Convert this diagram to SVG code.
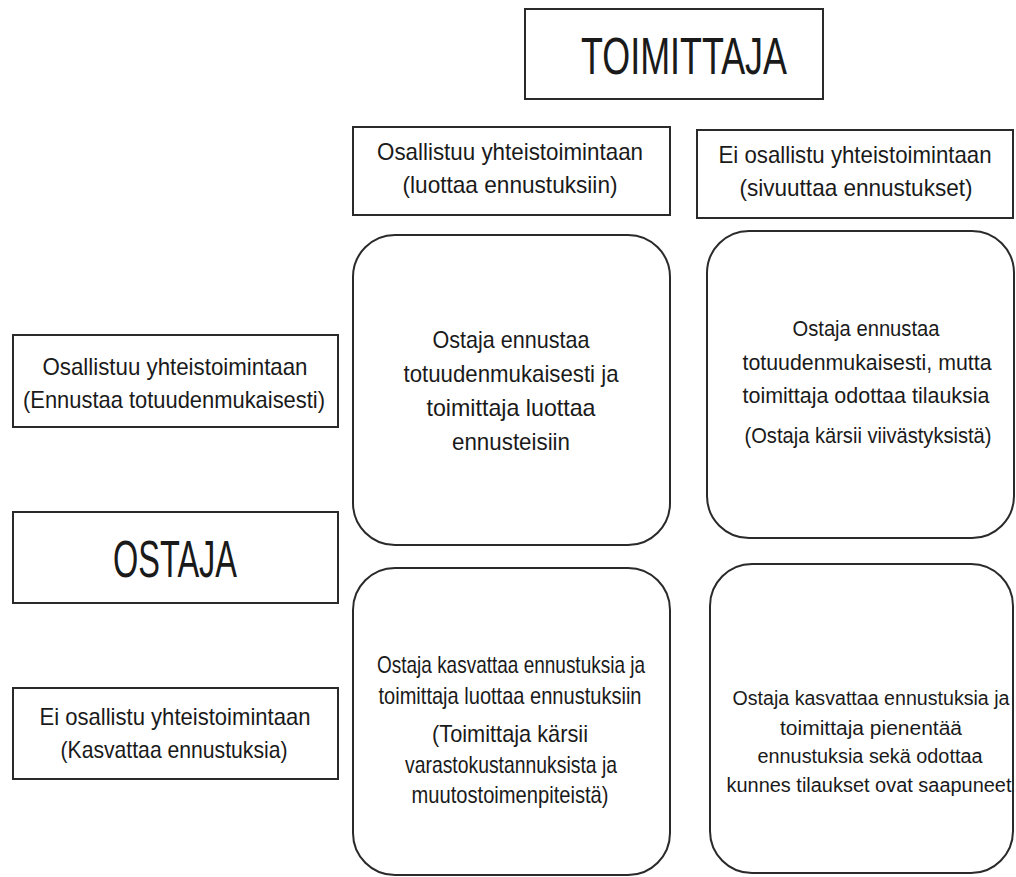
<svg xmlns="http://www.w3.org/2000/svg" width="1016" height="877" viewBox="0 0 1016 877">
  <style>
    .box { fill: #ffffff; stroke: #2a2a2a; stroke-width: 2; }
    .card { fill: #ffffff; stroke: #2a2a2a; stroke-width: 2; }
    text { font-family: "Liberation Sans", Arial, sans-serif; fill: #1a1a1a; text-anchor: middle; }
    .t { font-size: 24px; }
    .s { font-size: 22px; }
    .xs { font-size: 20px; }
    .big { font-size: 52px; }
  </style>
  <rect width="1016" height="877" fill="#ffffff"/>

  <!-- supplier title -->
  <g id="toimittaja">
    <rect class="box" x="525" y="9" width="298" height="90"/>
    <text class="big" x="684" y="74" textLength="206" lengthAdjust="spacingAndGlyphs">TOIMITTAJA</text>
  </g>

  <!-- column headers -->
  <g id="col-osallistuu">
    <rect class="box" x="353" y="127" width="317" height="88"/>
    <text class="t" x="510" y="160" textLength="266" lengthAdjust="spacingAndGlyphs">Osallistuu yhteistoimintaan</text>
    <text class="t" x="510" y="193" textLength="215" lengthAdjust="spacingAndGlyphs">(luottaa ennustuksiin)</text>
  </g>
  <g id="col-ei-osallistu">
    <rect class="box" x="697" y="130" width="316" height="88"/>
    <text class="t" x="855" y="163" textLength="273" lengthAdjust="spacingAndGlyphs">Ei osallistu yhteistoimintaan</text>
    <text class="t" x="856" y="196" textLength="233" lengthAdjust="spacingAndGlyphs">(sivuuttaa ennustukset)</text>
  </g>

  <!-- row headers -->
  <g id="row-osallistuu">
    <rect class="box" x="13" y="335" width="325" height="92"/>
    <text class="t" x="175" y="375" textLength="265" lengthAdjust="spacingAndGlyphs">Osallistuu yhteistoimintaan</text>
    <text class="t" x="174" y="408" textLength="302" lengthAdjust="spacingAndGlyphs">(Ennustaa totuudenmukaisesti)</text>
  </g>
  <g id="ostaja">
    <rect class="box" x="13" y="512" width="325" height="91"/>
    <text class="big" x="175" y="577" textLength="124" lengthAdjust="spacingAndGlyphs">OSTAJA</text>
  </g>
  <g id="row-ei-osallistu">
    <rect class="box" x="13" y="688" width="325" height="91"/>
    <text class="t" x="175" y="725" textLength="271" lengthAdjust="spacingAndGlyphs">Ei osallistu yhteistoimintaan</text>
    <text class="t" x="174" y="758" textLength="227" lengthAdjust="spacingAndGlyphs">(Kasvattaa ennustuksia)</text>
  </g>

  <!-- outcome cells -->
  <g id="cell-both">
    <rect class="card" x="353" y="235" width="317" height="310" rx="42" ry="42"/>
    <text class="t" x="511" y="348" textLength="157" lengthAdjust="spacingAndGlyphs">Ostaja ennustaa</text>
    <text class="t" x="511" y="382" textLength="215" lengthAdjust="spacingAndGlyphs">totuudenmukaisesti ja</text>
    <text class="t" x="511" y="416" textLength="169" lengthAdjust="spacingAndGlyphs">toimittaja luottaa</text>
    <text class="t" x="511" y="450" textLength="118" lengthAdjust="spacingAndGlyphs">ennusteisiin</text>
  </g>
  <g id="cell-buyer-only">
    <rect class="card" x="707" y="231" width="307" height="307" rx="42" ry="42"/>
    <text class="s" x="866" y="336" textLength="147" lengthAdjust="spacingAndGlyphs">Ostaja ennustaa</text>
    <text class="s" x="867" y="370" textLength="249" lengthAdjust="spacingAndGlyphs">totuudenmukaisesti, mutta</text>
    <text class="s" x="866" y="403" textLength="247" lengthAdjust="spacingAndGlyphs">toimittaja odottaa tilauksia</text>
    <text class="s" x="868" y="443" textLength="247" lengthAdjust="spacingAndGlyphs">(Ostaja kärsii viivästyksistä)</text>
  </g>
  <g id="cell-supplier-only">
    <rect class="card" x="353" y="568" width="317" height="307" rx="42" ry="42"/>
    <text class="t" x="511" y="673" textLength="268" lengthAdjust="spacingAndGlyphs">Ostaja kasvattaa ennustuksia ja</text>
    <text class="t" x="510" y="704" textLength="263" lengthAdjust="spacingAndGlyphs">toimittaja luottaa ennustuksiin</text>
    <text class="t" x="510" y="742" textLength="156" lengthAdjust="spacingAndGlyphs">(Toimittaja kärsii</text>
    <text class="t" x="511" y="773" textLength="212" lengthAdjust="spacingAndGlyphs">varastokustannuksista ja</text>
    <text class="t" x="510" y="803" textLength="197" lengthAdjust="spacingAndGlyphs">muutostoimenpiteistä)</text>
  </g>
  <g id="cell-neither">
    <rect class="card" x="710" y="564" width="303" height="309" rx="42" ry="42"/>
    <text class="xs" x="871" y="705" textLength="277" lengthAdjust="spacingAndGlyphs">Ostaja kasvattaa ennustuksia ja</text>
    <text class="xs" x="871" y="735" textLength="182" lengthAdjust="spacingAndGlyphs">toimittaja pienentää</text>
    <text class="xs" x="870" y="763" textLength="225" lengthAdjust="spacingAndGlyphs">ennustuksia sekä odottaa</text>
    <text class="xs" x="869" y="792" textLength="285" lengthAdjust="spacingAndGlyphs">kunnes tilaukset ovat saapuneet</text>
  </g>
</svg>
